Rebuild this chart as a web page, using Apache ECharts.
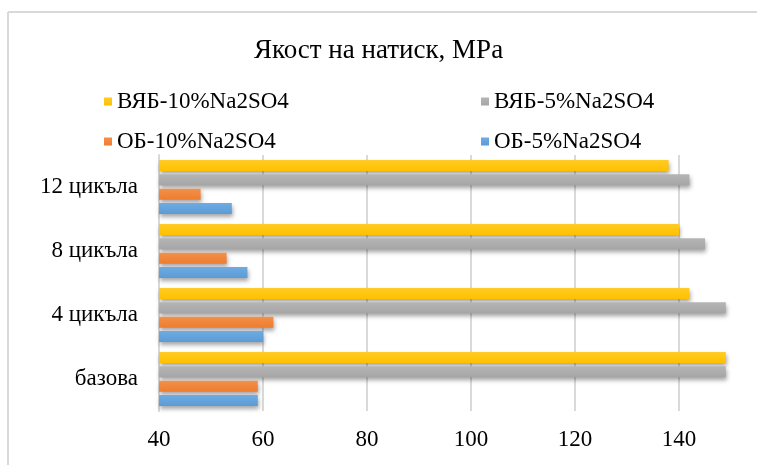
<!DOCTYPE html>
<html>
<head>
<meta charset="utf-8">
<script src="https://cdn.jsdelivr.net/npm/echarts@6/dist/echarts.min.js"></script>
<style>
  html, body { margin: 0; padding: 0; background: #fff; }
  #chart { width: 757px; height: 465px; }
</style>
</head>
<body>
<div id="chart"></div>
<script>
// категории (отдолу нагоре)
var categories = ['базова', '4 цикъла', '8 цикъла', '12 цикъла'];
var seriesNames = ['ВЯБ-10%Na2SO4', 'ВЯБ-5%Na2SO4', 'ОБ-10%Na2SO4', 'ОБ-5%Na2SO4'];
var vyab10 = [149, 142, 140, 138];
var vyab5 = [149, 149, 145, 142];
var ob10 = [59, 62, 53, 48];
var ob5 = [59, 60, 57, 54];
var colors = ['#FFC000', '#A5A5A5', '#ED7D31', '#5B9BD5'];
var lighter = ['#FFCB26', '#B5B5B5', '#F58F48', '#6FABE3'];

var font = '"Liberation Serif", "DejaVu Serif", serif';

function bar(i, values) {
    return {
        name: seriesNames[i],
        type: 'bar',
        data: values,
        barWidth: 11,
        barGap: '30%',
        itemStyle: {
            color: new echarts.graphic.LinearGradient(0, 0, 0, 1, [
                {offset: 0, color: lighter[i]},
                {offset: 1, color: colors[i]}
            ]),
            shadowColor: 'rgba(0,0,0,0.35)',
            shadowBlur: 4,
            shadowOffsetX: 1,
            shadowOffsetY: 3
        }
    };
}

function legendItem(name, left, top) {
    return {
        data: [name],
        left: left,
        top: top,
        itemWidth: 8,
        itemHeight: 8,
        icon: 'rect',
        textStyle: {fontFamily: font, fontSize: 23, color: '#000'}
    };
}

var chart = echarts.init(document.getElementById('chart'));
chart.setOption({
    color: colors,
    animation: false,
    title: {
        text: 'Якост на натиск, MPa',
        left: 'center',
        top: 32,
        textStyle: {fontFamily: font, fontSize: 27, fontWeight: 'normal', color: '#000'}
    },
    legend: [
        legendItem('ВЯБ-10%Na2SO4', 99, 85),
        legendItem('ВЯБ-5%Na2SO4', 476, 85),
        legendItem('ОБ-10%Na2SO4', 99, 125),
        legendItem('ОБ-5%Na2SO4', 476, 125)
    ],
    grid: {left: 159, right: 26, top: 155, bottom: 54},
    xAxis: {
        type: 'value',
        min: 40,
        max: 150,
        interval: 20,
        axisLine: {show: false},
        axisTick: {show: false},
        axisLabel: {
            showMaxLabel: false,
            margin: 17,
            fontFamily: font,
            fontSize: 23,
            color: '#000'
        },
        splitLine: {
            showMinLine: false,
            showMaxLine: false,
            lineStyle: {color: '#d9d9d9', width: 2}
        }
    },
    yAxis: {
        type: 'category',
        data: categories,
        axisLine: {lineStyle: {color: '#d9d9d9', width: 2}},
        axisTick: {show: false},
        axisLabel: {margin: 21, padding: [5, 0, 0, 0], fontFamily: font, fontSize: 23, color: '#000'}
    },
    graphic: [
        {type: 'line', shape: {x1: 8, y1: 12, x2: 757, y2: 12}, style: {stroke: '#d9d9d9', lineWidth: 2}},
        {type: 'line', shape: {x1: 8, y1: 12, x2: 8, y2: 465}, style: {stroke: '#d9d9d9', lineWidth: 2}}
    ],
    series: [
        bar(0, vyab10),
        bar(1, vyab5),
        bar(2, ob10),
        bar(3, ob5)
    ]
});
</script>
</body>
</html>
